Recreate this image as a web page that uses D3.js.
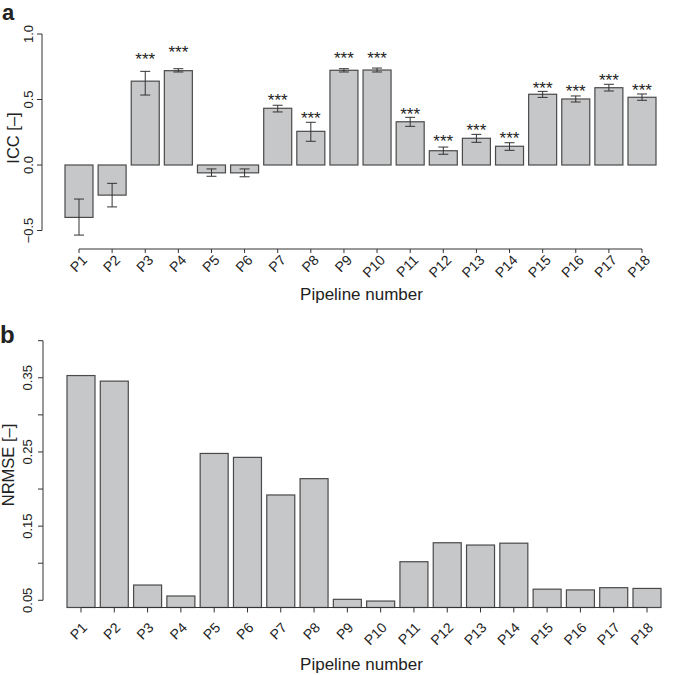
<!DOCTYPE html>
<html><head><meta charset="utf-8">
<script src="https://cdn.jsdelivr.net/npm/d3@7"></script>
<style>
body{margin:0;background:#fff;}
text{font-family:"Liberation Sans",Arial,Helvetica,sans-serif;fill:#222;}
</style></head><body>
<svg id="c" width="685" height="675"></svg>
<script>
const pipelines = ["P1","P2","P3","P4","P5","P6","P7","P8","P9","P10","P11","P12","P13","P14","P15","P16","P17","P18"];
// Panel a: ICC with confidence interval
const icc     = [-0.40,-0.23, 0.64, 0.72,-0.06,-0.06, 0.433,0.257,0.723,0.725,0.33, 0.109,0.204,0.143,0.54, 0.504,0.59, 0.517];
const iccLow  = [-0.535,-0.32,0.534,0.71,-0.086,-0.09,0.405,0.181,0.71, 0.71, 0.295,0.082,0.173,0.112,0.516,0.481,0.565,0.494];
const iccHigh = [-0.26,-0.14, 0.715,0.735,-0.03,-0.03,0.456,0.326,0.735,0.74, 0.364,0.137,0.234,0.17, 0.562,0.527,0.616,0.542];
const signif  = ["","","***","***","","","***","***","***","***","***","***","***","***","***","***","***","***"];
const starAt  = [null,null,0.818,0.869,null,null,0.502,0.369,0.828,0.827,0.398,0.192,0.276,0.210,0.598,0.570,0.655,0.582];
const iccTicks = [-0.5, 0.0, 0.5, 1.0];
// Panel b: NRMSE
const nrmse = [0.353,0.3455,0.0706,0.0558,0.248,0.2427,0.192,0.214,0.0513,0.049,0.102,0.1276,0.1245,0.127,0.065,0.064,0.067,0.066];
const nrmseTicks = [0.05,0.10,0.15,0.20,0.25,0.30,0.35,0.40];
const nrmseLabels = [0.05,0.15,0.25,0.35];
const nrmseFloor = 0.0403; // lower limit of the plotting region

const svg = d3.select("#c");
const barFill = "#c6c7c9", barStroke = "#4a4a4a", ink = "#333";
const bw = 28;
const fmt1 = v => d3.format(".1f")(v).replace("-", "\u2212");

// ---------- Panel a ----------
const xA = d3.scalePoint().domain(pipelines).range([79, 642]);
const yA = d3.scaleLinear().domain([-0.5, 1.0]).range([230.5, 34]);
const gA = svg.append("g");

gA.selectAll("rect.bar").data(pipelines).join("rect")
  .attr("x", d => xA(d) - bw/2)
  .attr("y", (d,i) => yA(Math.max(0, icc[i])))
  .attr("width", bw)
  .attr("height", (d,i) => Math.abs(yA(icc[i]) - yA(0)))
  .attr("fill", barFill).attr("stroke", barStroke).attr("stroke-width", 1.2);

const eb = gA.selectAll("g.eb").data(pipelines).join("g").attr("stroke", ink).attr("stroke-width", 1);
eb.append("line").attr("x1", d => xA(d)).attr("x2", d => xA(d))
  .attr("y1", (d,i) => yA(iccLow[i])).attr("y2", (d,i) => yA(iccHigh[i]));
eb.append("line").attr("x1", d => xA(d)-5).attr("x2", d => xA(d)+5)
  .attr("y1", (d,i) => yA(iccLow[i])).attr("y2", (d,i) => yA(iccLow[i]));
eb.append("line").attr("x1", d => xA(d)-5).attr("x2", d => xA(d)+5)
  .attr("y1", (d,i) => yA(iccHigh[i])).attr("y2", (d,i) => yA(iccHigh[i]));

gA.selectAll("text.star").data(pipelines.filter((d,i)=>signif[i])).join("text")
  .attr("x", d => xA(d))
  .attr("y", d => yA(starAt[pipelines.indexOf(d)]) + 7)
  .attr("text-anchor", "middle").attr("font-size", 17)
  .text(d => signif[pipelines.indexOf(d)]);

// y axis a
const axA = gA.append("g").attr("transform", "translate(42,0)");
axA.append("line").attr("x1",0).attr("x2",0).attr("y1", yA(-0.5)).attr("y2", yA(1.0)).attr("stroke", ink);
axA.selectAll("line.t").data(iccTicks).join("line").attr("x1",0).attr("x2",-5)
  .attr("y1", d=>yA(d)).attr("y2", d=>yA(d)).attr("stroke", ink);
axA.selectAll("text").data(iccTicks).join("text")
  .attr("transform", d => `translate(-9,${yA(d)}) rotate(-90)`)
  .attr("text-anchor","middle").attr("font-size", 13).text(fmt1);

// x axis a
const xAxY = 249;
gA.append("line").attr("x1", xA("P1")).attr("x2", xA("P18")).attr("y1", xAxY).attr("y2", xAxY).attr("stroke", ink);
gA.selectAll("line.xt").data(pipelines).join("line")
  .attr("x1", d=>xA(d)).attr("x2", d=>xA(d)).attr("y1", xAxY).attr("y2", xAxY+4).attr("stroke", ink);
gA.selectAll("text.xl").data(pipelines).join("text")
  .attr("transform", d => `translate(${xA(d)+9},${xAxY+12}) rotate(-45)`)
  .attr("text-anchor","end").attr("font-size", 14).text(d=>d);

gA.append("text").attr("x", 361.5).attr("y", 300).attr("text-anchor","middle").attr("font-size", 17).text("Pipeline number");
gA.append("text").attr("transform", `translate(19,138) rotate(-90)`).attr("text-anchor","middle").attr("font-size", 16.5).text("ICC [\u2013]");
gA.append("text").attr("x", 2).attr("y", 20).attr("font-size", 22).attr("font-weight","bold").text("a");

// ---------- Panel b ----------
const xB = d3.scalePoint().domain(pipelines).range([81, 647]);
const yB = d3.scaleLinear().domain([0.05, 0.40]).range([600.3, 340.7]);
const gB = svg.append("g");

gB.selectAll("rect.bar").data(pipelines).join("rect")
  .attr("x", d => xB(d) - bw/2)
  .attr("y", (d,i) => yB(nrmse[i]))
  .attr("width", bw)
  .attr("height", (d,i) => yB(nrmseFloor) - yB(nrmse[i]))
  .attr("fill", barFill).attr("stroke", barStroke).attr("stroke-width", 1.2);

const axB = gB.append("g").attr("transform", "translate(43,0)");
axB.append("line").attr("x1",0).attr("x2",0).attr("y1", yB(0.05)).attr("y2", yB(0.40)).attr("stroke", ink);
axB.selectAll("line.t").data(nrmseTicks).join("line").attr("x1",0).attr("x2",-5)
  .attr("y1", d=>yB(d)).attr("y2", d=>yB(d)).attr("stroke", ink);
axB.selectAll("text").data(nrmseLabels).join("text")
  .attr("transform", d => `translate(-11,${yB(d)}) rotate(-90)`)
  .attr("text-anchor","middle").attr("font-size", 13).text(d => d3.format(".2f")(d));

const xBxY = yB(nrmseFloor);
gB.append("line").attr("x1", xB("P1")).attr("x2", xB("P18")).attr("y1", xBxY).attr("y2", xBxY).attr("stroke", ink);
gB.selectAll("line.xt").data(pipelines).join("line")
  .attr("x1", d=>xB(d)).attr("x2", d=>xB(d)).attr("y1", xBxY).attr("y2", xBxY+5).attr("stroke", ink);
gB.selectAll("text.xl").data(pipelines).join("text")
  .attr("transform", d => `translate(${xB(d)+7},${xBxY+21}) rotate(-45)`)
  .attr("text-anchor","end").attr("font-size", 14).text(d=>d);

gB.append("text").attr("x", 361.5).attr("y", 670).attr("text-anchor","middle").attr("font-size", 17).text("Pipeline number");
gB.append("text").attr("transform", `translate(14,465) rotate(-90)`).attr("text-anchor","middle").attr("font-size", 16.5).text("NRMSE [\u2013]");
gB.append("text").attr("x", 0).attr("y", 343).attr("font-size", 24).attr("font-weight","bold").text("b");
</script>
</body></html>
